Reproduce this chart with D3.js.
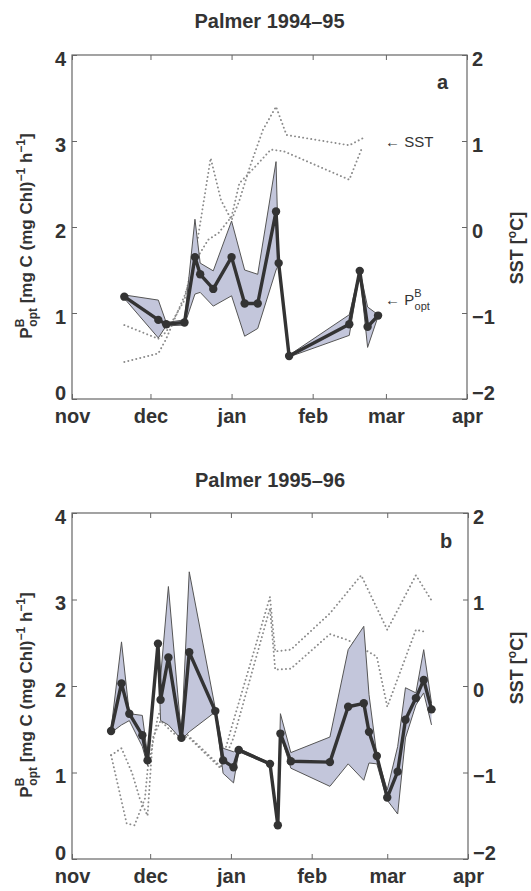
<!DOCTYPE html>
<html>
<head>
<meta charset="utf-8">
<script src="https://cdn.jsdelivr.net/npm/d3@7"></script>
<style>
  body { margin: 0; background: #fff; }
  text { font-family: "Liberation Sans", Arial, sans-serif; fill: #333; }
</style>
</head>
<body>
<div class="chart"></div>
<script>
// ---- panel a : Palmer 1994-95 ----
var datesA = ["1994-11-21", "1994-12-04", "1994-12-07", "1994-12-14", "1994-12-18", "1994-12-20",
  "1994-12-25", "1995-01-01", "1995-01-06", "1995-01-11", "1995-01-18", "1995-01-19",
  "1995-01-23", "1995-02-15", "1995-02-19", "1995-02-22", "1995-02-26"];
var pbA   = [1.19, 0.92, 0.87, 0.89, 1.65, 1.45, 1.28, 1.65, 1.11, 1.11, 2.18, 1.58, 0.50, 0.87, 1.49, 0.84, 0.97];
var pbAHi = [1.21, 1.15, 0.89, 0.92, 2.09, 1.58, 1.49, 2.07, 1.50, 1.45, 2.76, 1.60, 0.51, 0.98, 1.50, 1.07, 0.98];
var pbALo = [1.17, 0.71, 0.85, 0.86, 1.22, 1.24, 1.08, 1.20, 0.73, 0.82, 1.50, 1.56, 0.49, 0.74, 1.48, 0.60, 0.96];

var sstA1Dates = ["1994-11-21", "1994-12-04", "1994-12-07", "1994-12-14", "1994-12-19", "1994-12-24",
  "1994-12-28", "1995-01-01", "1995-01-04", "1995-01-08", "1995-01-13", "1995-01-18", "1995-01-22",
  "1995-02-15", "1995-02-20"];
var sstA1 = [-1.14, -1.30, -1.22, -0.85, -0.15, 0.80, 0.31, 0.08, 0.31, 0.70, 1.13, 1.40, 1.07, 0.95, 1.03];
var sstA2Dates = ["1994-11-21", "1994-12-04", "1994-12-07", "1994-12-14", "1994-12-19", "1994-12-23",
  "1994-12-27", "1995-01-01", "1995-01-04", "1995-01-10", "1995-01-16", "1995-01-21", "1995-02-15",
  "1995-02-20"];
var sstA2 = [-1.57, -1.47, -1.30, -0.80, -0.35, -0.15, -0.07, 0.12, 0.51, 0.70, 0.90, 0.88, 0.55, 0.93];

// ---- panel b : Palmer 1995-96 ----
var datesB = ["1995-11-16", "1995-11-20", "1995-11-23", "1995-11-28", "1995-11-30", "1995-12-04",
  "1995-12-05", "1995-12-08", "1995-12-13", "1995-12-16", "1995-12-26", "1995-12-29", "1996-01-02",
  "1996-01-04", "1996-01-16", "1996-01-19", "1996-01-20", "1996-01-24", "1996-02-08", "1996-02-15",
  "1996-02-21", "1996-02-23", "1996-02-26", "1996-03-01", "1996-03-05", "1996-03-08", "1996-03-12",
  "1996-03-15", "1996-03-18"];
var pbB   = [1.48, 2.03, 1.68, 1.43, 1.14, 2.49, 1.84, 2.33, 1.40, 2.39, 1.71, 1.14, 1.06, 1.26, 1.10,
  0.39, 1.45, 1.13, 1.12, 1.76, 1.80, 1.47, 1.19, 0.71, 1.01, 1.61, 1.86, 2.07, 1.73];
var pbBHi = [1.50, 2.51, 1.68, 1.66, 1.20, 2.50, 2.10, 3.15, 1.42, 3.32, 1.74, 1.28, 1.24, 1.28, 1.11,
  0.40, 1.68, 1.23, 1.41, 2.42, 2.69, 1.90, 1.20, 0.80, 1.30, 1.98, 1.92, 2.42, 1.80];
var pbBLo = [1.46, 1.55, 1.60, 1.30, 1.08, 2.48, 1.60, 1.55, 1.38, 1.47, 1.70, 0.99, 0.88, 1.24, 1.09,
  0.38, 1.44, 1.05, 0.84, 1.10, 0.91, 1.11, 1.10, 0.68, 0.52, 1.40, 1.78, 1.92, 1.55];

var sstB1Dates = ["1995-11-16", "1995-11-22", "1995-11-25", "1995-11-29", "1995-11-30", "1995-12-04",
  "1995-12-05", "1995-12-13", "1995-12-20", "1995-12-28", "1996-01-02", "1996-01-16", "1996-01-18",
  "1996-01-24", "1996-02-08", "1996-02-20", "1996-03-01", "1996-03-12", "1996-03-18"];
var sstB1 = [-0.80, -1.59, -1.61, -1.30, -0.97, -0.35, -0.28, -0.50, -0.70, -0.93, -0.40, 1.03, 0.40,
  0.42, 0.84, 1.28, 0.65, 1.28, 0.99];
var sstB2Dates = ["1995-11-16", "1995-11-20", "1995-11-24", "1995-11-27", "1995-11-30", "1995-12-02",
  "1995-12-05", "1995-12-10", "1995-12-16", "1995-12-28", "1996-01-02", "1996-01-16", "1996-01-18",
  "1996-01-24", "1996-02-08", "1996-02-15", "1996-02-26", "1996-03-01", "1996-03-12", "1996-03-15"];
var sstB2 = [-0.80, -0.72, -1.00, -1.30, -1.50, -0.60, -0.40, -0.55, -0.60, -0.95, -0.60, 0.90, 0.19,
  0.20, 0.60, 0.53, 0.34, -0.24, 0.65, 0.63];

var monthLabels = ["nov", "dec", "jan", "feb", "mar", "apr"];
var pbTicks = [0, 1, 2, 3, 4];
var sstTicks = [-2, -1, 0, 1, 2];

var w = 531;
var h = 891;
var parse = d3.timeParse("%Y-%m-%d");

var svg = d3.select(".chart")
  .append("svg")
  .attr("width", w)
  .attr("height", h);

function drawPanel(p) {
  var x = d3.scaleTime()
    .domain([parse(p.start), parse(p.end)])
    .range([p.left, p.right]);
  var y = d3.scaleLinear().domain([0, 4]).range([p.bottom, p.top]);
  var yS = d3.scaleLinear().domain([-2, 2]).range([p.bottom, p.top]);

  var months = d3.timeMonth.range(parse(p.start), d3.timeDay.offset(parse(p.end), 1));

  var g = svg.append("g");

  // title
  g.append("text")
    .attr("x", (p.left + p.right) / 2)
    .attr("y", p.titleY)
    .attr("text-anchor", "middle")
    .attr("font-size", "20px")
    .attr("font-weight", "bold")
    .text(p.title);

  // SST dotted lines
  var sstLine = d3.line()
    .x(function(d) { return x(d.date); })
    .y(function(d) { return yS(d.v); });

  p.sst.forEach(function(s) {
    var pts = s.dates.map(function(d, i) { return { date: parse(d), v: s.values[i] }; });
    g.append("path")
      .datum(pts)
      .attr("d", sstLine)
      .attr("fill", "none")
      .attr("stroke", "#8c8c8c")
      .attr("stroke-width", 1.9)
      .attr("stroke-linecap", "round")
      .attr("stroke-dasharray", "0.1,4");
  });

  // P opt band
  var pts = p.dates.map(function(d, i) {
    return { date: parse(d), v: p.pb[i], hi: p.hi[i], lo: p.lo[i] };
  });

  var area = d3.area()
    .x(function(d) { return x(d.date); })
    .y0(function(d) { return y(d.lo); })
    .y1(function(d) { return y(d.hi); });

  g.append("path")
    .datum(pts)
    .attr("d", area)
    .attr("fill", "#c3c6db")
    .attr("stroke", "none");

  ["hi", "lo"].forEach(function(k) {
    g.append("path")
      .datum(pts)
      .attr("d", d3.line()
        .x(function(d) { return x(d.date); })
        .y(function(d) { return y(d[k]); }))
      .attr("fill", "none")
      .attr("stroke", "#555")
      .attr("stroke-width", 1);
  });

  g.append("path")
    .datum(pts)
    .attr("d", d3.line()
      .x(function(d) { return x(d.date); })
      .y(function(d) { return y(d.v); }))
    .attr("fill", "none")
    .attr("stroke", "#333")
    .attr("stroke-width", 3.4)
    .attr("stroke-linejoin", "round");

  g.selectAll(".dot")
    .data(pts)
    .enter()
    .append("circle")
    .attr("cx", function(d) { return x(d.date); })
    .attr("cy", function(d) { return y(d.v); })
    .attr("r", 4.2)
    .attr("fill", "#333");

  // frame
  g.append("rect")
    .attr("x", p.left)
    .attr("y", p.top)
    .attr("width", p.right - p.left)
    .attr("height", p.bottom - p.top)
    .attr("fill", "none")
    .attr("stroke", "#666")
    .attr("stroke-width", 1.2);

  // axes
  var xAxis = d3.axisBottom(x)
    .tickValues(months)
    .tickFormat(function(d, i) { return monthLabels[i]; })
    .tickSizeInner(-5)
    .tickSizeOuter(0)
    .tickPadding(10);

  var xTop = d3.axisTop(x)
    .tickValues(months)
    .tickFormat("")
    .tickSizeInner(-5)
    .tickSizeOuter(0);

  var yAxis = d3.axisLeft(y)
    .tickValues(pbTicks)
    .tickFormat(d3.format("d"))
    .tickSizeInner(-5)
    .tickSizeOuter(0)
    .tickPadding(6);

  var yAxisR = d3.axisRight(yS)
    .tickValues(sstTicks)
    .tickFormat(function(d) { return d < 0 ? "\u2212" + (-d) : d; })
    .tickSizeInner(-5)
    .tickSizeOuter(0)
    .tickPadding(5);

  var axes = [
    g.append("g").attr("transform", "translate(0," + p.bottom + ")").call(xAxis),
    g.append("g").attr("transform", "translate(0," + p.top + ")").call(xTop),
    g.append("g").attr("transform", "translate(" + p.left + ",0)").call(yAxis),
    g.append("g").attr("transform", "translate(" + p.right + ",0)").call(yAxisR)
  ];
  axes.forEach(function(a) {
    a.select(".domain").remove();
    a.selectAll("line").attr("stroke", "#666");
    a.selectAll("text")
      .attr("font-size", "20px")
      .attr("font-weight", "bold")
      .attr("font-family", "'Liberation Sans', Arial, sans-serif")
      .attr("fill", "#333");
  });
  axes[2].selectAll("text").attr("dy", "0.5em");
  axes[3].selectAll("text").attr("dy", "0.5em");
  // keep the corner labels clear of the month labels
  axes[2].selectAll(".tick").filter(function(d) { return d === 0; })
    .select("text").attr("dy", "0.02em");
  axes[3].selectAll(".tick").filter(function(d) { return d === -2; })
    .select("text").attr("dy", "0.02em");

  // left axis title
  var lt = g.append("text")
    .attr("transform", "translate(32," + p.labelY + ") rotate(-90)")
    .attr("text-anchor", "middle")
    .attr("font-size", "17px")
    .attr("font-weight", "bold");
  lt.append("tspan").text("P");
  lt.append("tspan").attr("font-size", "12px").attr("dy", -8).text("B");
  lt.append("tspan").attr("font-size", "12px").attr("dx", -8).attr("dy", 13).text("opt");
  lt.append("tspan").attr("dy", -5).text(" [mg C (mg Chl)");
  lt.append("tspan").attr("font-size", "12px").attr("dy", -7).text("\u22121");
  lt.append("tspan").attr("dy", 7).text(" h");
  lt.append("tspan").attr("font-size", "12px").attr("dy", -7).text("\u22121");
  lt.append("tspan").attr("dy", 7).text("]");

  // right axis title
  var rt = g.append("text")
    .attr("transform", "translate(523," + p.sstLabelY + ") rotate(-90)")
    .attr("text-anchor", "middle")
    .attr("font-size", "18px")
    .attr("font-weight", "bold");
  rt.append("tspan").text("SST  [");
  rt.append("tspan").attr("font-size", "12px").attr("dy", -7).text("o");
  rt.append("tspan").attr("dy", 7).text("C]");

  // panel letter
  g.append("text")
    .attr("x", p.letterX)
    .attr("y", p.letterY)
    .attr("font-size", "20px")
    .attr("font-weight", "bold")
    .text(p.letter);

  if (p.notes) {
    g.append("text")
      .attr("x", 385)
      .attr("y", 147)
      .attr("font-size", "15px")
      .attr("fill", "#555")
      .text("\u2190 SST");
    var pn = g.append("text")
      .attr("x", 385)
      .attr("y", 305)
      .attr("font-size", "15px")
      .attr("fill", "#555");
    pn.append("tspan").text("\u2190 P");
    pn.append("tspan").attr("font-size", "11px").attr("dy", -8).text("B");
    pn.append("tspan").attr("font-size", "11px").attr("dx", -7).attr("dy", 13).text("opt");
  }
}

drawPanel({
  start: "1994-11-01", end: "1995-04-01",
  left: 72, right: 467, top: 55, bottom: 399,
  title: "Palmer 1994\u201395", titleY: 28,
  dates: datesA, pb: pbA, hi: pbAHi, lo: pbALo,
  sst: [{ dates: sstA1Dates, values: sstA1 }, { dates: sstA2Dates, values: sstA2 }],
  labelY: 236, sstLabelY: 248,
  letter: "a", letterX: 437, letterY: 89,
  notes: true
});

drawPanel({
  start: "1995-11-01", end: "1996-04-01",
  left: 72, right: 468, top: 513, bottom: 859,
  title: "Palmer 1995\u201396", titleY: 487,
  dates: datesB, pb: pbB, hi: pbBHi, lo: pbBLo,
  sst: [{ dates: sstB1Dates, values: sstB1 }, { dates: sstB2Dates, values: sstB2 }],
  labelY: 695, sstLabelY: 668,
  letter: "b", letterX: 440, letterY: 548,
  notes: false
});
</script>
</body>
</html>
